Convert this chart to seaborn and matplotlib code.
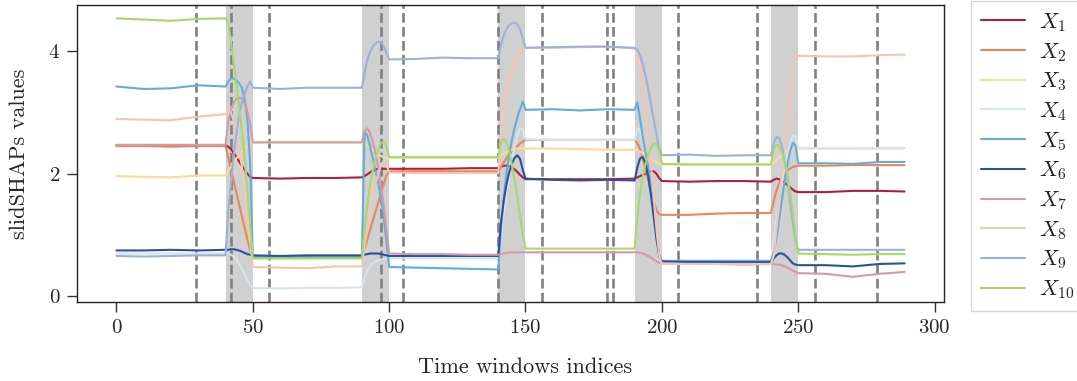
import matplotlib
matplotlib.use("Agg")
import matplotlib.pyplot as plt
import seaborn as sns
import pandas as pd

windows = [0, 10, 20, 30,
           40, 41, 42, 43, 44, 45, 46, 47, 48, 49, 50,
           60, 70, 80,
           90, 91, 92, 93, 94, 95, 96, 97, 98, 99, 100,
           110, 120, 130,
           140, 141, 142, 143, 144, 145, 146, 147, 148, 149, 150,
           160, 170, 180,
           190, 191, 192, 193, 194, 195, 196, 197, 198, 199, 200,
           210, 220, 230,
           240, 241, 242, 243, 244, 245, 246, 247, 248, 249, 250,
           260, 270, 280, 289]

x1 = [2.46, 2.46, 2.45, 2.46,
      2.46, 2.44, 2.40, 2.34, 2.27, 2.20, 2.13, 2.06, 2.00, 1.95, 1.93,
      1.92, 1.93, 1.93,
      1.94, 1.96, 1.99, 2.02, 2.05, 2.07, 2.08, 2.08, 2.08, 2.08, 2.08,
      2.08, 2.08, 2.09,
      2.09, 2.11, 2.13, 2.13, 2.12, 2.10, 2.07, 2.03, 1.98, 1.94, 1.91,
      1.91, 1.91, 1.91,
      1.92, 1.94, 1.96, 1.98, 2.00, 2.02, 2.04, 2.04, 2.00, 1.93, 1.88,
      1.87, 1.88, 1.88,
      1.87, 1.90, 1.92, 1.91, 1.88, 1.85, 1.82, 1.78, 1.74, 1.71, 1.70,
      1.70, 1.72, 1.72, 1.71]
x2 = [2.45, 2.45, 2.44, 2.45,
      2.45, 2.26, 2.07, 1.88, 1.69, 1.50, 1.31, 1.12, 0.93, 0.76, 0.64,
      0.64, 0.64, 0.64,
      0.64, 0.78, 0.93, 1.08, 1.23, 1.38, 1.53, 1.68, 1.83, 1.97, 2.04,
      2.04, 2.04, 2.04,
      2.04, 2.11, 2.18, 2.25, 2.31, 2.36, 2.41, 2.45, 2.49, 2.52, 2.55,
      2.55, 2.55, 2.55,
      2.55, 2.50, 2.40, 2.25, 2.08, 1.90, 1.72, 1.55, 1.40, 1.34, 1.33,
      1.33, 1.35, 1.36,
      1.36, 1.55, 1.72, 1.84, 1.92, 1.99, 2.05, 2.08, 2.11, 2.12, 2.13,
      2.13, 2.14, 2.14, 2.14]
x3 = [1.96, 1.95, 1.94, 1.97,
      1.97, 2.04, 2.11, 2.18, 2.25, 2.31, 2.37, 2.42, 2.46, 2.49, 2.51,
      2.51, 2.51, 2.51,
      2.51, 2.49, 2.46, 2.42, 2.38, 2.34, 2.31, 2.29, 2.27, 2.26, 2.26,
      2.26, 2.26, 2.26,
      2.26, 2.29, 2.32, 2.35, 2.37, 2.39, 2.40, 2.41, 2.41, 2.41, 2.41,
      2.41, 2.40, 2.39,
      2.39, 2.38, 2.36, 2.33, 2.30, 2.27, 2.24, 2.21, 2.18, 2.16, 2.15,
      2.15, 2.15, 2.15,
      2.15, 2.18, 2.22, 2.26, 2.30, 2.34, 2.37, 2.39, 2.40, 2.41, 2.41,
      2.41, 2.41, 2.41, 2.41]
x4 = [0.70, 0.70, 0.70, 0.70,
      0.70, 0.70, 0.68, 0.65, 0.60, 0.53, 0.45, 0.36, 0.27, 0.19, 0.14,
      0.13, 0.14, 0.14,
      0.15, 0.30, 0.41, 0.49, 0.54, 0.57, 0.59, 0.60, 0.61, 0.62, 0.62,
      0.62, 0.62, 0.62,
      0.62, 1.00, 1.35, 1.68, 1.98, 2.24, 2.45, 2.62, 2.74, 2.72, 2.56,
      2.55, 2.55, 2.55,
      2.55, 2.75, 2.70, 2.55, 2.32, 2.02, 1.68, 1.30, 0.95, 0.68, 0.58,
      0.58, 0.58, 0.58,
      0.58, 0.90, 1.25, 1.55, 1.85, 2.10, 2.30, 2.48, 2.62, 2.60, 2.42,
      2.41, 2.41, 2.42, 2.42]
x5 = [3.42, 3.38, 3.39, 3.44,
      3.42, 3.50, 3.55, 3.55, 3.52, 3.47, 3.40, 3.22, 2.90, 2.20, 0.65,
      0.65, 0.65, 0.65,
      0.65, 2.68, 2.62, 2.45, 2.25, 2.05, 1.85, 1.60, 1.30, 0.90, 0.48,
      0.47, 0.46, 0.45,
      0.44, 1.10, 1.60, 2.00, 2.30, 2.55, 2.75, 2.92, 3.05, 3.17, 3.04,
      3.05, 3.03, 3.05,
      3.04, 3.16, 2.90, 2.60, 2.35, 2.10, 1.80, 1.40, 0.95, 0.65, 0.58,
      0.58, 0.58, 0.58,
      0.58, 0.72, 0.95, 1.25, 1.57, 1.88, 2.15, 2.36, 2.50, 2.46, 2.17,
      2.17, 2.16, 2.19, 2.19]
x6 = [0.75, 0.75, 0.76, 0.75,
      0.76, 0.76, 0.77, 0.77, 0.76, 0.75, 0.73, 0.71, 0.69, 0.68, 0.67,
      0.66, 0.67, 0.67,
      0.67, 0.68, 0.69, 0.70, 0.70, 0.70, 0.70, 0.69, 0.68, 0.67, 0.66,
      0.66, 0.66, 0.66,
      0.66, 1.20, 1.55, 1.82, 2.02, 2.16, 2.26, 2.30, 2.24, 2.06, 1.92,
      1.90, 1.89, 1.90,
      1.89, 2.10, 2.25, 2.27, 2.18, 1.95, 1.65, 1.30, 0.95, 0.68, 0.57,
      0.56, 0.56, 0.56,
      0.56, 0.62, 0.67, 0.70, 0.70, 0.68, 0.64, 0.59, 0.54, 0.52, 0.51,
      0.51, 0.49, 0.53, 0.54]
x7 = [2.47, 2.47, 2.47, 2.47,
      2.47, 2.85, 3.05, 3.16, 3.22, 3.24, 3.22, 3.15, 3.02, 2.82, 2.51,
      2.51, 2.51, 2.51,
      2.51, 2.70, 2.74, 2.66, 2.52, 2.33, 2.10, 1.82, 1.48, 1.10, 0.70,
      0.69, 0.69, 0.68,
      0.68, 0.69, 0.70, 0.71, 0.72, 0.72, 0.72, 0.72, 0.72, 0.72, 0.72,
      0.72, 0.72, 0.72,
      0.72, 0.72, 0.71, 0.70, 0.68, 0.66, 0.63, 0.60, 0.57, 0.55, 0.54,
      0.53, 0.53, 0.52,
      0.53, 0.53, 0.52, 0.52, 0.51, 0.49, 0.47, 0.45, 0.42, 0.40, 0.38,
      0.37, 0.32, 0.37, 0.40]
x8 = [2.89, 2.88, 2.87, 2.93,
      2.97, 3.03, 3.00, 2.86, 2.66, 2.42, 2.12, 1.75, 1.33, 0.90, 0.48,
      0.47, 0.46, 0.49,
      0.49, 0.85, 1.15, 1.42, 1.65, 1.85, 2.00, 2.12, 2.21, 2.15, 2.02,
      2.01, 2.01, 2.01,
      2.01, 2.60, 3.00, 3.30, 3.52, 3.68, 3.81, 3.90, 3.97, 4.02, 4.05,
      4.05, 4.06, 4.07,
      4.04, 3.95, 3.75, 3.42, 3.00, 2.60, 2.15, 1.62, 1.10, 0.68, 0.53,
      0.53, 0.53, 0.53,
      0.53, 0.66, 1.10, 1.53, 1.97, 2.40, 2.84, 3.27, 3.71, 3.96, 3.92,
      3.91, 3.91, 3.93, 3.94]
x9 = [0.66, 0.65, 0.66, 0.67,
      0.67, 1.40, 1.85, 2.30, 2.65, 2.95, 3.15, 3.30, 3.42, 3.50, 3.40,
      3.38, 3.40, 3.40,
      3.40, 3.65, 3.85, 3.98, 4.07, 4.12, 4.15, 4.14, 4.08, 3.96, 3.86,
      3.87, 3.89, 3.88,
      3.88, 4.10, 4.25, 4.35, 4.42, 4.45, 4.46, 4.43, 4.35, 4.20, 4.05,
      4.06, 4.07, 4.07,
      4.05, 4.02, 3.93, 3.79, 3.60, 3.37, 3.13, 2.89, 2.65, 2.42, 2.30,
      2.31, 2.29, 2.30,
      2.30, 2.50, 2.60, 2.58, 2.45, 2.20, 1.90, 1.55, 1.20, 0.90, 0.76,
      0.76, 0.76, 0.76, 0.76]
x10 = [4.53, 4.51, 4.49, 4.52,
       4.53, 4.45, 4.15, 3.80, 3.45, 3.10, 2.70, 2.25, 1.75, 1.20, 0.62,
       0.62, 0.62, 0.62,
       0.62, 1.10, 1.50, 1.82, 2.06, 2.25, 2.40, 2.50, 2.53, 2.45, 2.27,
       2.27, 2.27, 2.27,
       2.27, 2.50, 2.57, 2.52, 2.38, 2.15, 1.90, 1.62, 1.32, 1.02, 0.78,
       0.78, 0.78, 0.78,
       0.78, 1.30, 1.68, 1.95, 2.15, 2.30, 2.41, 2.48, 2.49, 2.38, 2.16,
       2.15, 2.15, 2.15,
       2.15, 2.40, 2.47, 2.45, 2.35, 2.20, 2.00, 1.70, 1.35, 0.97, 0.70,
       0.69, 0.68, 0.69, 0.69]

feature_names = ["$X_{1}$", "$X_{2}$", "$X_{3}$", "$X_{4}$", "$X_{5}$",
                 "$X_{6}$", "$X_{7}$", "$X_{8}$", "$X_{9}$", "$X_{10}$"]
series = [x1, x2, x3, x4, x5, x6, x7, x8, x9, x10]
colors = ["#ad1f3f", "#ec8558", "#fbdc93", "#d3e6ee", "#62addb",
          "#2c50a0", "#d49aa7", "#f4c6b2", "#9fb0d8", "#a6d96a"]

# change-point shaded windows and detected change points
span_starts = [40, 90, 140, 190, 240]
span_ends = [50, 100, 150, 200, 250]
change_points = [29, 42, 56, 97, 105, 140, 156, 180, 182, 206, 235, 256, 279]

rows = []
for name, vals in zip(feature_names, series):
    for w, v in zip(windows, vals):
        rows.append({"window": w, "value": v, "feature": name})
df = pd.DataFrame(rows)

sns.set_style("ticks")
plt.rcParams["font.family"] = ["cmr10", "DejaVu Serif"]
plt.rcParams["mathtext.fontset"] = "cm"
plt.rcParams["axes.formatter.use_mathtext"] = True

fig = plt.figure(figsize=(10.77, 3.81), dpi=100)
ax = fig.add_axes([0.0715, 0.2073, 0.805, 0.78])

for s, e in zip(span_starts, span_ends):
    ax.axvspan(s, e, color="#d0d0d0", lw=0, zorder=0)
for cp in change_points:
    ax.axvline(cp, color="#808080", ls="--", lw=1.9, zorder=1)

sns.lineplot(data=df, x="window", y="value", hue="feature",
             hue_order=feature_names, palette=colors, linewidth=1.5,
             ax=ax, zorder=2)

ax.set_xlim(-14.45, 303.45)
ax.set_ylim(-0.09, 4.75)
ax.set_xticks([0, 50, 100, 150, 200, 250, 300])
ax.set_yticks([0, 2, 4])
ax.set_xlabel("Time windows indices", fontsize=16, labelpad=15)
ax.xaxis.label.set_x(0.517)
ax.set_ylabel("slidSHAPs values", fontsize=16, labelpad=14)
ax.tick_params(axis="both", labelsize=15, length=7, width=1, color="#333333",
               direction="out", pad=5)
for sp in ax.spines.values():
    sp.set_color("#222222")
    sp.set_linewidth(1.0)

leg = ax.legend(loc="upper left", bbox_to_anchor=(1.031, 1.012), fontsize=16,
                frameon=True, fancybox=False, edgecolor="#cccccc",
                borderaxespad=0, handlelength=2.0, labelspacing=0.31,
                borderpad=0.45, handletextpad=0.6)
leg.get_frame().set_linewidth(1.0)

fig.savefig("out.png", dpi=100)
